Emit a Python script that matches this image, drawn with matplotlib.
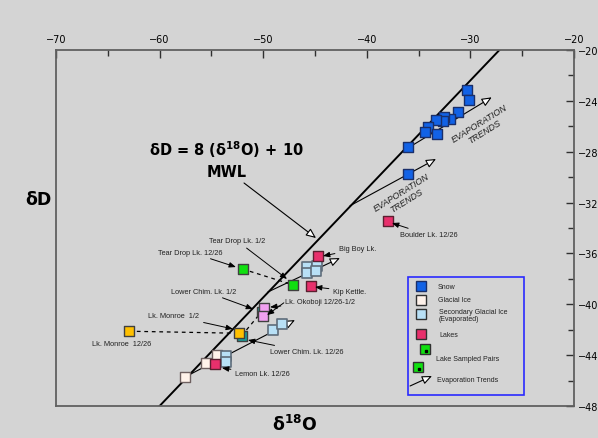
import numpy as np
import matplotlib.pyplot as plt

# ---- global style ------------------------------------------------------------
plt.rcParams.update({
    "font.family": "DejaVu Sans",
    "font.size": 7,
    "mathtext.fontset": "dejavusans",
})
BG = "#d4d4d4"

# ---- data ----------------------------------------------------------------------
# Snow
snow_x = [-30.33, -30.14, -31.20, -31.97, -32.55, -32.65, -33.32, -34.09, -34.38, -33.22, -36.02, -36.02]
snow_y = [-231.5, -239.3, -248.8, -254.3, -252.7, -255.8, -255.1, -260.6, -264.5, -266.1, -276.3, -297.5]

# Glacial ice
ice_x = [-54.49, -55.52, -57.55]
ice_y = [-439.7, -446.2, -457.2]

# Secondary glacial ice (evaporated)
sec_x = [-45.80, -45.74, -44.83, -44.90, -49.03, -48.21, -53.59, -53.59]
sec_y = [-370.9, -375.6, -370.1, -373.6, -420.0, -415.5, -440.4, -445.6]

# Lakes (single samples): Big Boy, Kip Kettle, Boulder, Lemon
lake_x = [-44.74, -45.39, -37.95, -54.65]
lake_y = [-361.8, -385.4, -334.5, -447.0]

# Lake sampled pairs: (12/26, 1/2)
pair_names = ["Tear Drop", "Lower Chim.", "Okoboji", "Monroe"]
pair_x1 = [-51.98, -52.08, -49.92, -62.92]
pair_y1 = [-372.3, -424.7, -403.2, -421.2]
pair_x2 = [-47.09, -50.14, -50.05, -52.31]
pair_y2 = [-384.8, -405.8, -409.5, -422.8]
pair_colors = ["#10e010", "#1a9e9a", "#f0a0f0", "#ffc000"]

# Meteoric water line end points
mwl_x = [-60.0, -27.2]
mwl_y = [-480.0, -200.0]

# Evaporation trend arrows
evap_x0 = [-41.62, -36.50, -49.54, -57.55]
evap_y0 = [-322.5, -279.4, -390.3, -457.2]
evap_x1 = [-33.32, -27.94, -42.59, -46.93]
evap_y1 = [-285.7, -237.2, -363.6, -412.4]

legend_labels = ["Snow", "Glacial Ice", "Secondary Glacial Ice\n(Evaporated)", "Lakes",
                 "Lake Sampled Pairs", "Evaporation Trends"]

# ---- figure --------------------------------------------------------------------
fig = plt.figure(figsize=(5.98, 4.39), dpi=100, facecolor=BG)
ax = fig.add_axes([0.0936, 0.0729, 0.8663, 0.8109])
ax.set_facecolor(BG)
ax.set_xlim(-70, -20)
ax.set_ylim(-480, -200)

ax.xaxis.tick_top()
ax.yaxis.tick_right()
ax.set_xticks(np.arange(-70, -19, 10))
ax.set_xticks(np.arange(-65, -20, 10), minor=True)
ax.set_yticks(np.arange(-480, -199, 40))
ax.set_yticks(np.arange(-460, -200, 40), minor=True)
ax.tick_params(which="both", direction="in", color="#303030", width=1.0,
               labelsize=7, pad=3)
ax.tick_params(axis="x", pad=4)
ax.tick_params(which="major", length=6)
ax.tick_params(which="minor", length=4)
for s in ax.spines.values():
    s.set_color("#606060")
    s.set_linewidth(1.3)

# MWL
ax.plot(mwl_x, mwl_y, color="black", lw=1.4, zorder=2)

# evaporation trend arrows
evap_style = dict(arrowstyle="-|>,head_length=0.7,head_width=0.3", fc="white",
                  ec="black", lw=0.8, mutation_scale=8.5, shrinkA=0, shrinkB=0)
for x0, y0, x1, y1 in zip(evap_x0, evap_y0, evap_x1, evap_y1):
    ax.annotate("", xy=(x1, y1), xytext=(x0, y0), arrowprops=evap_style, zorder=2)

# dashed lines joining the sampled pairs
for x1, y1, x2, y2 in zip(pair_x1, pair_y1, pair_x2, pair_y2):
    ax.plot([x1, x2], [y1, y2], ls=(0, (3, 3)), color="black", lw=0.9, zorder=2)

sq = dict(marker="s", s=58, zorder=4)
ax.scatter(snow_x, snow_y, fc="#1262e6", ec="#1a2f6a", lw=1.0, **sq)
ax.scatter(ice_x, ice_y, fc="#fff2ea", ec="#6e6060", lw=1.0, **sq)
ax.scatter(sec_x, sec_y, fc="#b8e0f6", ec="#5e6c7a", lw=1.2, **sq)
ax.scatter(lake_x, lake_y, fc="#e8306c", ec="#5a2030", lw=1.0, **sq)
for i in [1, 3, 0, 2]:
    ax.scatter([pair_x1[i]], [pair_y1[i]], fc=pair_colors[i], ec="#404040", lw=1.0, **sq)
    ax.scatter([pair_x2[i]], [pair_y2[i]], fc=pair_colors[i], ec="#404040", lw=1.0, **sq)

# ---- labels --------------------------------------------------------------------
lbl = dict(fontsize=5.3, family="Liberation Sans", color="#222222", va="center")
arw = dict(arrowstyle="-|>,head_length=0.5,head_width=0.2", color="black", lw=0.7,
           mutation_scale=8, shrinkA=1, shrinkB=0)

labels = [
    ("Tear Drop Lk. 1/2", -52.5, -350.2, "center", [(-47.7, -380.1)]),
    ("Tear Drop Lk. 12/26", -57.07, -358.9, "center", [(-52.63, -370.7)]),
    ("Lower Chim. Lk. 1/2", -55.71, -389.6, "center", [(-50.98, -403.7)]),
    ("Lk. Okoboji 12/26-1/2", -47.9, -398.2, "left", [(-49.34, -402.2), (-49.63, -408.5)]),
    ("Lk. Monroe  1/2", -58.61, -409.2, "center", [(-52.92, -419.4)]),
    ("Lk. Monroe  12/26", -63.63, -431.2, "center", []),
    ("Lower Chim. Lk. 12/26", -49.34, -437.5, "left", [(-51.47, -428.1)]),
    ("Lemon Lk. 12/26", -52.72, -454.8, "left", [(-53.98, -450.1)]),
    ("Kip Kettle.", -43.26, -389.6, "left", [(-45.0, -386.4)]),
    ("Big Boy Lk.", -42.68, -356.5, "left", [(-44.23, -362.0)]),
    ("Boulder Lk. 12/26", -36.8, -345.5, "left", [(-37.57, -336.1)]),
]
for txt, tx, ty, ha, targets in labels:
    if not targets:
        ax.text(tx, ty, txt, ha=ha, zorder=5, **lbl)
    for k, (px, py) in enumerate(targets):
        ax.annotate(txt if k == 0 else "", xy=(px, py), xytext=(tx, ty), ha=ha,
                    arrowprops=arw, zorder=5, **lbl)

# MWL equation and pointer
ax.text(-53.6, -277.9, r"δD = 8 (δ$^{\mathbf{18}}$O) + 10", ha="center", va="center",
        fontsize=10.5, fontweight="bold")
ax.text(-53.5, -295.2, "MWL", ha="center", va="center", fontsize=10.5, fontweight="bold")
ax.annotate("", xy=(-44.9, -347.9), xytext=(-51.85, -304.6), arrowprops=evap_style)

# EVAPORATION TRENDS captions
for cx, cy in [(-28.9, -260.6), (-36.4, -314.8)]:
    ax.text(cx, cy, "EVAPORATION\nTRENDS", ha="center", va="center", rotation=32,
            fontsize=6.5, style="italic", family="Liberation Sans", color="#202020",
            linespacing=1.0, multialignment="center")

# axis titles
fig.text(0.0635, 0.5445, "δD", ha="center", va="center", fontsize=12.5, fontweight="bold")
fig.text(0.493, 0.032, r"δ$^{\mathbf{18}}$O", ha="center", va="center",
         fontsize=12.5, fontweight="bold")

# ---- hand-made legend ----------------------------------------------------------
T = ax.transAxes
ax.add_patch(plt.Rectangle((0.6795, 0.0309), 0.224, 0.3315, transform=T, fill=False,
                           ec="#2a2aff", lw=1.2, zorder=6))
leg_txt = dict(fontsize=5.0, family="Liberation Sans", color="#222222", va="center",
               transform=T, zorder=7)
leg_sq = dict(marker="s", ms=7, transform=T, clip_on=False, zorder=7, ls="none")
ax.plot(0.704, 0.336, mfc="#1262e6", mec="#1a2f6a", **leg_sq)
ax.plot(0.704, 0.2986, mfc="#fff2ea", mec="#303030", **leg_sq)
ax.plot(0.704, 0.2584, mfc="#b8e0f6", mec="#303030", **leg_sq)
ax.plot(0.704, 0.2022, mfc="#e8306c", mec="#303030", **leg_sq)
ax.plot(0.713, 0.160, mfc="#10e010", mec="#303030", **leg_sq)
ax.plot(0.698, 0.1104, mfc="#10e010", mec="#303030", **leg_sq)
ax.plot([0.715, 0.700], [0.155, 0.105], marker="s", ms=1.5, color="black", ls="none",
        transform=T, zorder=8)
ax.text(0.7375, 0.337, legend_labels[0], **leg_txt)
ax.text(0.7375, 0.2986, legend_labels[1], **leg_txt)
ax.text(0.7395, 0.2556, legend_labels[2], linespacing=1.0, **leg_txt)
ax.text(0.7395, 0.2022, legend_labels[3], **leg_txt)
ax.text(0.7336, 0.1348, legend_labels[4], **leg_txt)
ax.text(0.7355, 0.0758, legend_labels[5], **leg_txt)
ax.annotate("", xy=(0.7259, 0.0843), xytext=(0.6835, 0.0562), xycoords=T, textcoords=T,
            arrowprops=evap_style, zorder=7)

fig.savefig("out.png", dpi=100, facecolor=BG)
